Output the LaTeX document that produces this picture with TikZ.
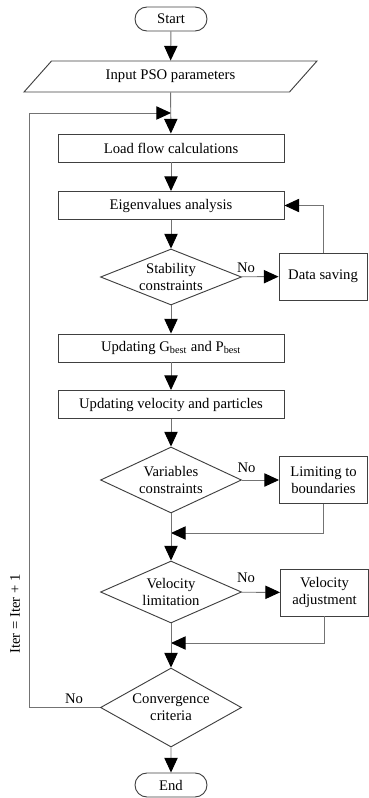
\documentclass[tikz,border=0pt]{standalone}
\usepackage{fontspec}
\setmainfont{Liberation Serif}
\usetikzlibrary{shapes.geometric,shapes.misc,arrows.meta}

\begin{document}
\begin{tikzpicture}[x=0.75pt, y=-0.75pt, line width=0.7pt,
  every node/.style={font=\fontsize{11}{13}\selectfont, align=center, inner sep=0pt},
  box/.style={draw=black!75, rectangle, minimum width=169.5pt, minimum height=21pt},
  sidebox/.style={draw=black!75, rectangle, minimum width=66pt, minimum height=35.25pt},
  term/.style={draw=black!75, rounded rectangle, minimum width=54pt, minimum height=18pt},
  decision/.style={draw=black!75, diamond, minimum width=105.75pt},
  line/.style={draw=black!55},
  arr/.style={line, -{Triangle[length=11pt, width=10pt, color=black]}}]
\useasboundingbox (0,0) rectangle (368,798);

% main column
\node[term] (start) at (171,19) {Start};
\node[draw=black!75, trapezium, trapezium left angle=25, trapezium right angle=155,
      trapezium stretches body, minimum width=219.75pt, minimum height=23.25pt]
      (input) at (170.5,76.5) {Input PSO parameters};
\node[box] (load) at (171,148) {Load flow calculations};
\node[box] (eigen) at (171,205.5) {Eigenvalues analysis};
\node[decision, shape aspect=2.5, minimum height=42pt] (stab) at (171,277) {Stability\\constraints};
\node[box] (gbest) at (171,348) {Updating G\textsubscript{best} and P\textsubscript{best}};
\node[box] (upvel) at (171,404.5) {Updating velocity and particles};
\node[decision, shape aspect=2.2, minimum height=49.5pt] (var) at (171,480) {Variables\\constraints};
\node[decision, shape aspect=2.3, minimum height=46.5pt] (vlim) at (171,592) {Velocity\\limitation};
\node[decision, shape aspect=1.8, minimum height=59.25pt] (conv) at (171,707.5) {Convergence\\criteria};
\node[term] (end) at (171,785) {End};

% side boxes
\node[sidebox] (save) at (323,276.5) {Data saving};
\node[sidebox] (limit) at (323.5,480) {Limiting to\\boundaries};
\node[sidebox] (adjust) at (324.5,592.5) {Velocity\\adjustment};

% labels
\node (no1) at (246,267.5) {No};
\node (no2) at (246.5,468) {No};
\node (no3) at (246,578) {No};
\node (no4) at (74,699) {No};
\node[rotate=90] (iter) at (15,614) {Iter = Iter + 1};

\coordinate (j0) at (171,113);
\coordinate (j1) at (171,533);
\coordinate (j2) at (171,643);
\coordinate (back) at (29,707.5);

\draw[arr] (start) -- (input);
\draw[arr] (input) -- (load);
\draw[arr] (load) -- (eigen);
\draw[arr] (eigen) -- (stab);
\draw[arr] (stab) -- (save);
\draw[arr] (save.north) |- (eigen.east);
\draw[arr] (stab) -- (gbest);
\draw[arr] (gbest) -- (upvel);
\draw[arr] (upvel) -- (var);
\draw[arr] (var) -- (limit);
\draw[arr] (limit.south) |- (j1);
\draw[arr] (var) -- (vlim);
\draw[arr] (vlim) -- (adjust);
\draw[arr] (adjust.south) |- (j2);
\draw[arr] (vlim) -- (conv);
\draw[arr] (conv) -- (end);
\draw[arr] (conv.west) -- (back) |- (j0);
\end{tikzpicture}
\end{document}
